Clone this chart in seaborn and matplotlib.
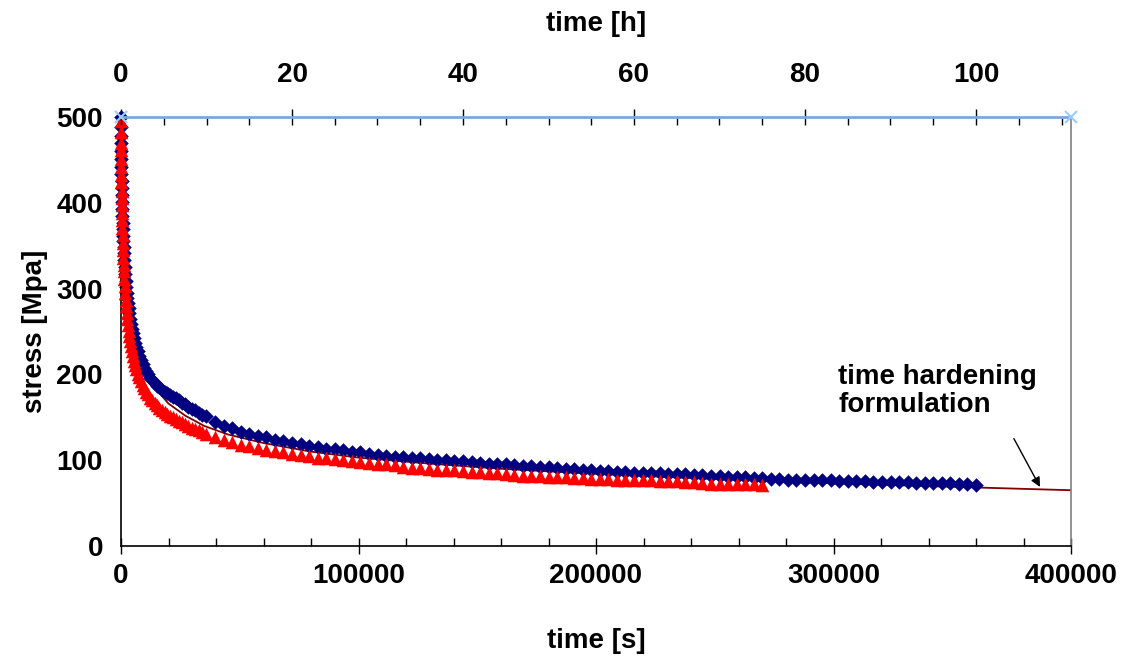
import matplotlib
matplotlib.use("Agg")
import matplotlib.pyplot as plt
from matplotlib.ticker import MultipleLocator
import seaborn as sns
import pandas as pd

# measured relaxation, first ~10 h (dense logging), time in s
early_t = [0, 20, 40, 60, 90, 120, 160, 200, 250, 300, 360, 430, 500, 580, 670, 770, 880,
           1000, 1130, 1270, 1420, 1580, 1750, 1950, 2150, 2400, 2650, 2900, 3200, 3500,
           3850, 4200, 4600, 5000, 5500, 6000, 6500, 7100, 7700, 8400, 9100, 9800, 10600,
           11400, 12300, 13200, 14200, 15200, 16200, 17300, 18400, 19500, 20700, 21900,
           23100, 24400, 25700, 27000, 28400, 29800, 31200, 32700, 34200, 35700]
blue_s_early = [500, 488, 478, 470, 460, 451, 442, 434, 425, 417, 409, 401, 393, 385, 377,
                369, 361, 355, 348, 341, 333, 325, 317, 309, 302, 295, 289, 283, 277, 271,
                265, 259, 253, 248, 242, 237, 232, 227, 222, 217, 212, 208, 204,
                200, 196, 193, 190, 187, 185, 182, 180, 178, 176, 174,
                172, 170, 167, 165, 162, 160, 158, 155, 153, 151]
red_s_early = [495, 482, 470, 462, 451, 442, 432, 424, 414, 406, 397, 388, 380, 371, 362,
               353, 345, 336, 328, 320, 311, 303, 295, 287, 280, 272, 265, 258, 251, 245,
               239, 233, 227, 222, 216, 211, 206, 201, 197, 192, 188, 184, 180,
               177, 173, 170, 167, 164, 161, 159, 156, 154, 152, 150,
               148, 146, 144, 142, 140, 138, 136, 135, 133, 131]

# hourly readings afterwards
blue_hours = list(range(11, 101))
blue_s_hourly = [144, 140, 137, 133, 131, 128, 127, 124, 122, 120, 118.5, 117, 115, 113.5,
                 112.5, 112, 110, 109, 107.5, 106.5, 105, 104, 103.5, 103, 102, 101.5, 100.5,
                 100, 99, 98.5, 97.5, 97, 96, 95.5, 95, 94, 93.5, 93, 92, 91.5, 91, 90, 89.5,
                 89, 88, 87.5, 87, 86.5, 86, 85.5, 85, 85, 84.5, 84, 84, 83.5, 83, 82.5, 82,
                 81.5, 81, 80.5, 80, 79.5, 79, 78.5, 78, 77.5, 77.5, 77, 77, 76.5, 76.5, 76,
                 76, 75.5, 75.5, 75, 75, 75, 74.5, 74.5, 74, 74, 73.5, 73, 73, 72.5, 72.5, 71]
red_hours = list(range(11, 76))
red_s_hourly = [127, 124, 121, 118, 116, 114, 112, 110.5, 109, 107.5, 106, 104.5, 103, 102,
                101, 100, 99, 98, 97, 96, 95, 94, 92, 91, 90.5, 90, 89, 88.5, 88, 87, 86.5,
                86, 85.5, 85, 84, 83, 81.5, 81.5, 81.5, 81, 80.5, 80, 79.5, 79, 78.5, 78, 78,
                77.5, 77.5, 77, 77, 76.5, 76, 76, 75.5, 75, 75, 73, 72.5, 72.5, 72, 72, 72,
                72, 71]

# time hardening fit
fit_t = [200, 500, 1000, 2000, 4000, 7000, 10000, 15000, 20000, 27000, 35000, 45000,
         60000, 80000, 100000, 130000, 160000, 200000, 250000, 300000, 350000, 400000]
fit_s = [470, 420, 370, 320, 270, 230, 205, 182, 166, 152, 140, 130,
         120, 110, 103, 96, 90, 84, 78, 73, 69, 65]

# top axis reference line (hours)
top_h = [0, 400000 / 3600]
top_s = [500, 500]

blue = pd.DataFrame({"t": early_t + [h * 3600 for h in blue_hours],
                     "s": blue_s_early + blue_s_hourly})
red = pd.DataFrame({"t": early_t + [h * 3600 for h in red_hours],
                    "s": red_s_early + red_s_hourly})
fit = pd.DataFrame({"t": fit_t, "s": fit_s})
top = pd.DataFrame({"h": top_h, "s": top_s})

sns.set_style("white")
plt.rcParams['font.family'] = ['Liberation Sans', 'DejaVu Sans']
plt.rcParams['font.weight'] = 'bold'
plt.rcParams['text.color'] = 'black'
plt.rcParams['axes.labelcolor'] = 'black'
plt.rcParams['xtick.color'] = 'black'
plt.rcParams['ytick.color'] = 'black'

FS = 20

fig = plt.figure(figsize=(11.23, 6.56), dpi=100)
ax = fig.add_axes([121 / 1123, 110 / 656, 950 / 1123, 429 / 656])

sns.lineplot(data=fit, x="t", y="s", ax=ax, color="#800000", linewidth=1.3, zorder=1)
sns.scatterplot(data=blue, x="t", y="s", ax=ax, marker="D", s=55, color="#000080",
                edgecolor="#000080", linewidth=0, zorder=2, clip_on=False)
sns.scatterplot(data=red, x="t", y="s", ax=ax, marker="^", s=95, color="#FF0000",
                edgecolor="#FF0000", linewidth=0, zorder=3, clip_on=False)

ax.set_xlim(0, 400000)
ax.set_ylim(0, 500)
ax.xaxis.set_major_locator(MultipleLocator(100000))
ax.xaxis.set_minor_locator(MultipleLocator(20000))
ax.yaxis.set_major_locator(MultipleLocator(100))
ax.yaxis.set_minor_locator(MultipleLocator(20))
ax.tick_params(which='major', direction='inout', length=12, width=1, labelsize=FS)
ax.tick_params(which='minor', direction='in', length=6, width=1)
ax.tick_params(axis='x', which='major', pad=6)
ax.tick_params(axis='y', which='major', pad=7)
ax.tick_params(axis='x', which='both', top=False)
ax.tick_params(axis='y', which='both', right=False)

ax.set_xlabel("time [s]", fontsize=FS, fontweight='bold', labelpad=28)
ax.set_ylabel("stress [Mpa]", fontsize=FS, fontweight='bold', labelpad=6)

for side in ['left', 'bottom']:
    ax.spines[side].set_color('black')
    ax.spines[side].set_linewidth(1.2)
ax.spines['right'].set_color('#808080')
ax.spines['right'].set_linewidth(1.2)
ax.spines['top'].set_visible(False)

ax.text(302000, 212, "time hardening\nformulation", fontsize=FS, fontweight='bold',
        ha='left', va='top', linespacing=1.1)
ax.annotate("", xy=(387500, 66), xytext=(375400, 128),
            arrowprops=dict(arrowstyle='-|>', color='black', lw=1, mutation_scale=14))

ax2 = ax.twiny()
sns.lineplot(data=top, x="h", y="s", ax=ax2, color="#7FA7D9", linewidth=2,
             marker="x", markersize=8, markeredgecolor="#99CCFF", markeredgewidth=1.5,
             clip_on=False)
ax2.set_xlim(0, 400000 / 3600)
ax2.xaxis.set_major_locator(MultipleLocator(20))
ax2.xaxis.set_minor_locator(MultipleLocator(5))
ax2.tick_params(axis='x', which='major', direction='inout', length=12, width=1,
                labelsize=FS, pad=15)
ax2.tick_params(axis='x', which='minor', direction='in', length=6, width=1)
ax2.set_xlabel("time [h]", fontsize=FS, fontweight='bold', labelpad=22)
ax2.set_ylabel("")
for side in ax2.spines:
    ax2.spines[side].set_visible(False)

fig.savefig("out.png", dpi=100)
